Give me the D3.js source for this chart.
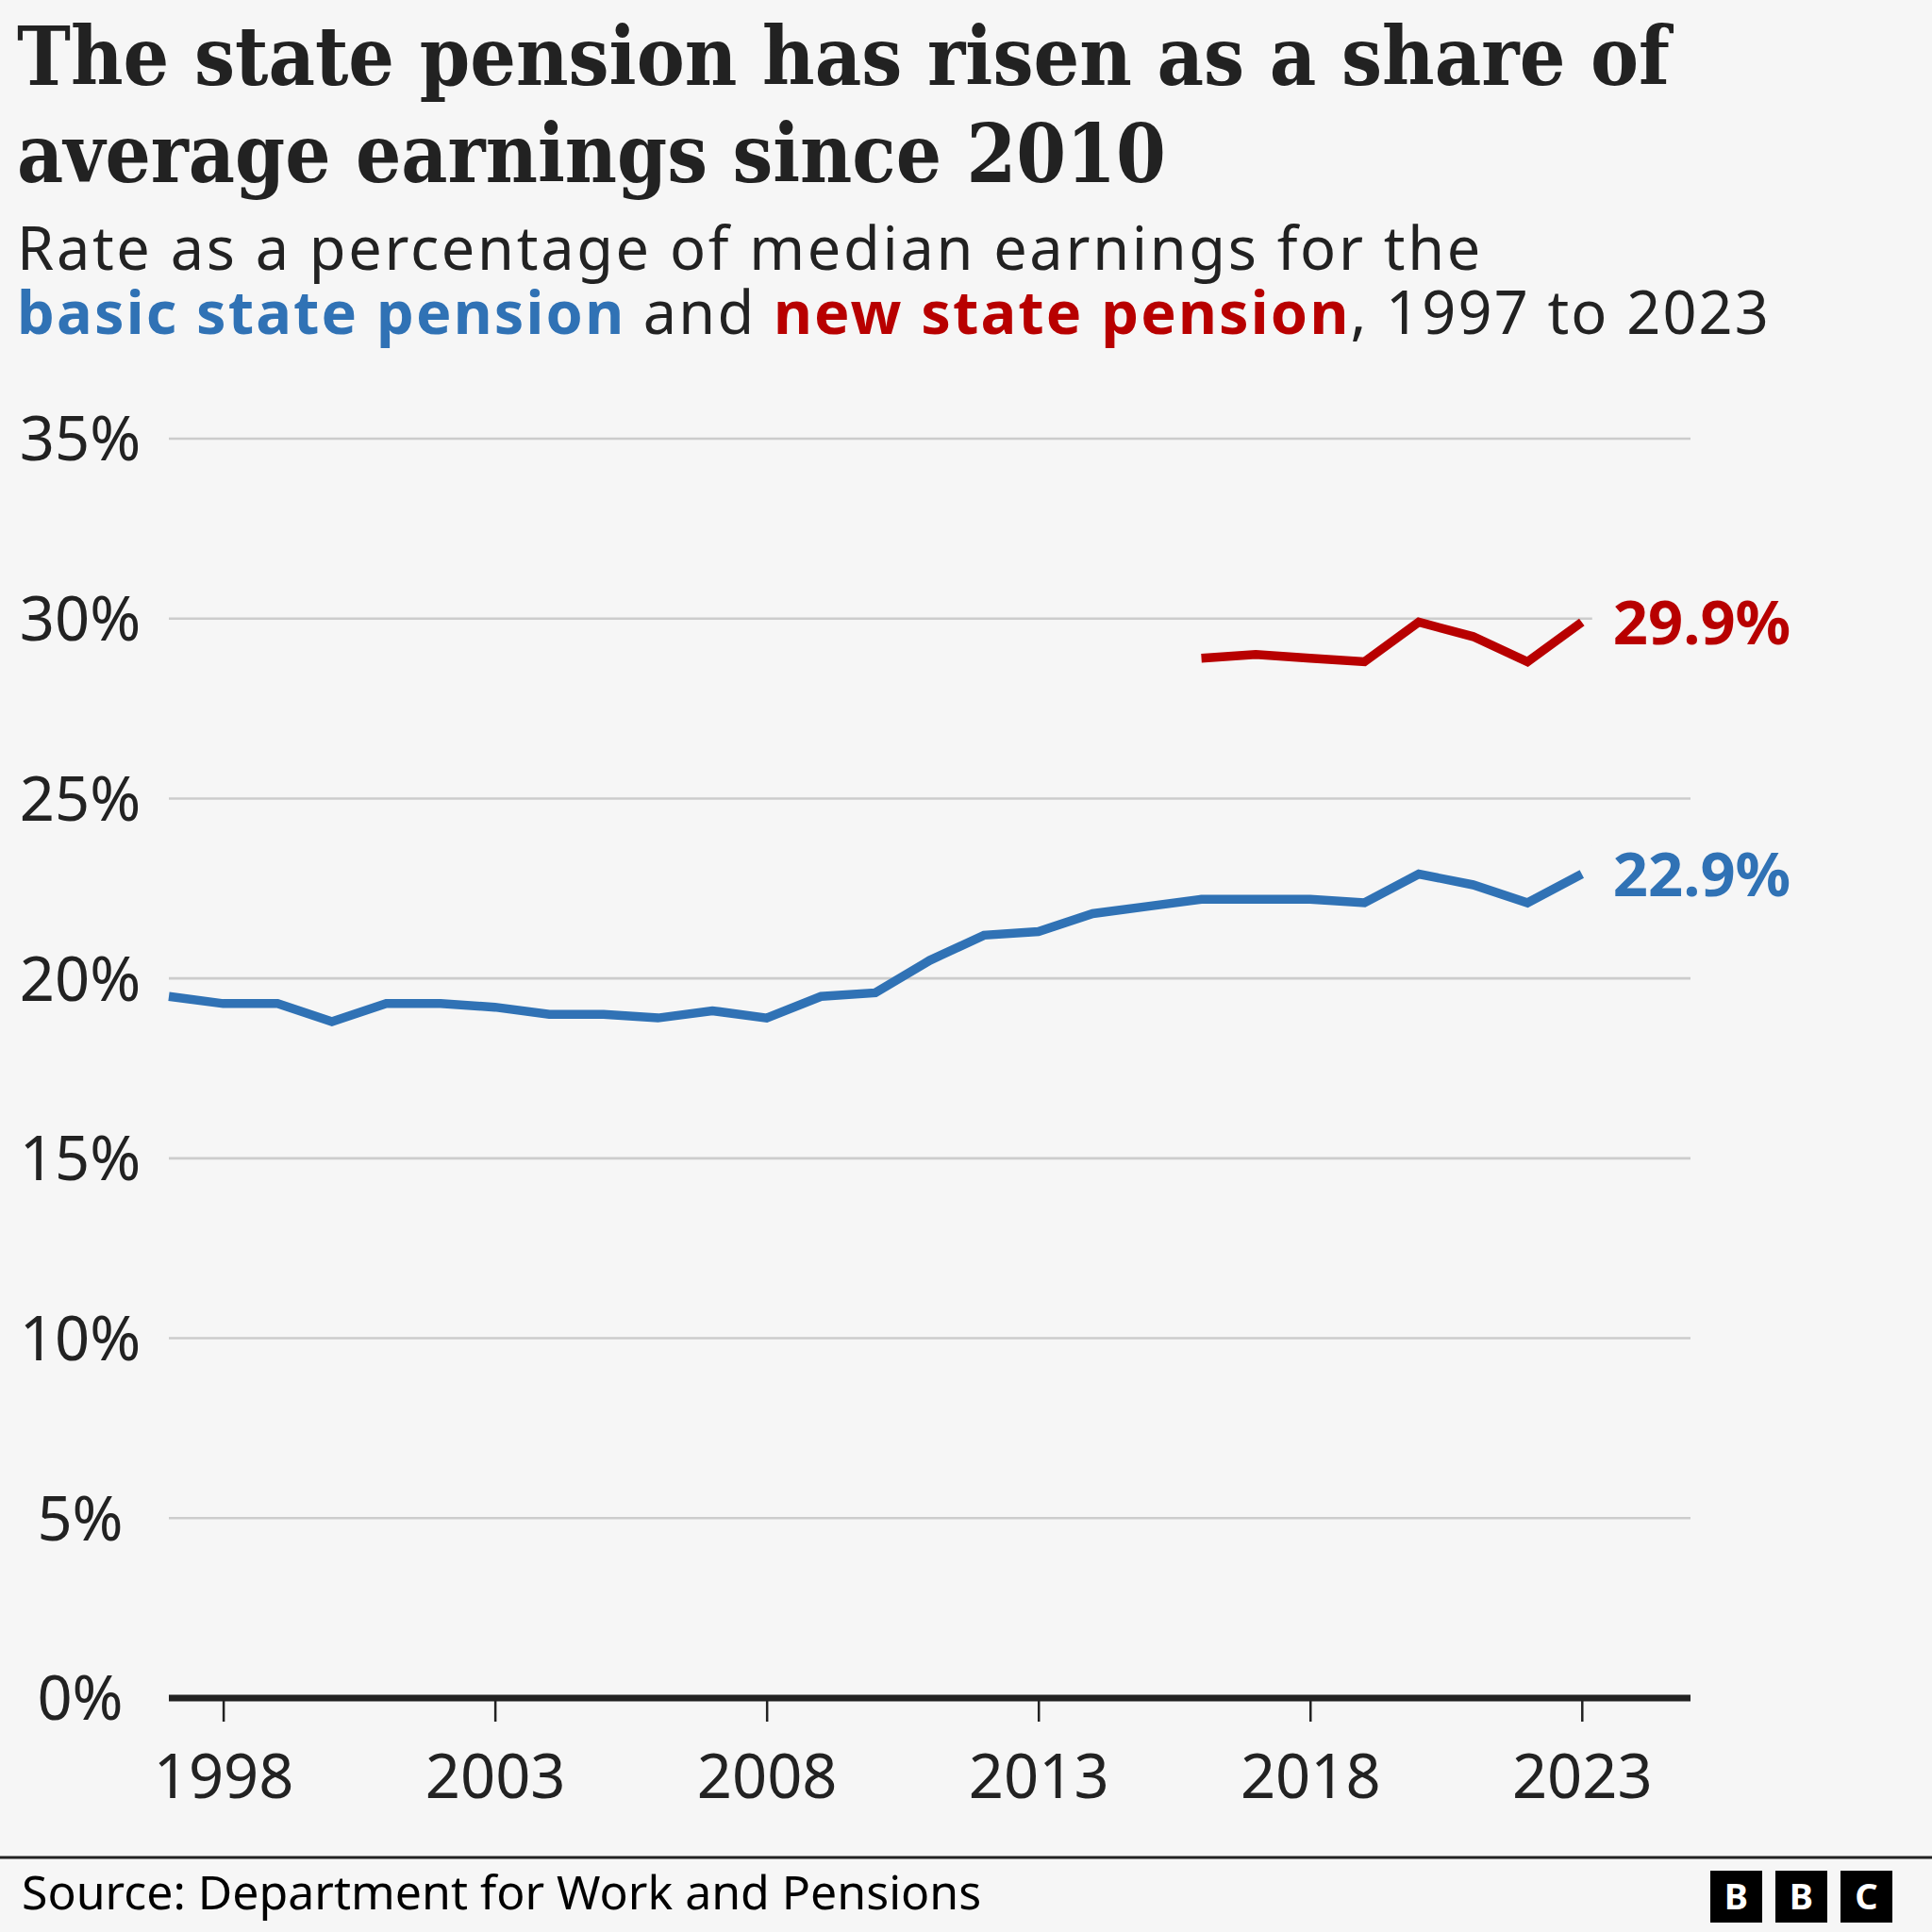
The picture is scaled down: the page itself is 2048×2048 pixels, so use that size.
<!DOCTYPE html>
<html>
<head>
<meta charset="utf-8">
<script src="https://cdn.jsdelivr.net/npm/d3@7"></script>
<style>
  html, body { margin: 0; padding: 0; background: #f6f6f6; }
  svg { display: block; }
</style>
</head>
<body>
<svg id="chart" width="2048" height="2048"></svg>
<script>
// ---- Data ----
const years = d3.range(1997, 2024);
const basicStatePension = [19.5, 19.3, 19.3, 18.8, 19.3, 19.3, 19.2, 19.0, 19.0, 18.9, 19.1, 18.9, 19.5, 19.6, 20.5, 21.2, 21.3, 21.8, 22.0, 22.2, 22.2, 22.2, 22.1, 22.9, 22.6, 22.1, 22.9];
const newYears = d3.range(2016, 2024);
const newStatePension = [28.9, 29.0, 28.9, 28.8, 29.9, 29.5, 28.8, 29.9];
const yTicks = [0, 5, 10, 15, 20, 25, 30, 35];
const xTicks = [1998, 2003, 2008, 2013, 2018, 2023];
const endLabels = ["22.9%", "29.9%"];

const BLUE = "#3072b5", RED = "#b80000", TEXT = "#222222", BG = "#f6f6f6";
const SANS = "'Noto Sans', 'Open Sans', sans-serif";
const SERIF = "'DejaVu Serif', serif";

const svg = d3.select("#chart");
svg.append("rect").attr("width", 2048).attr("height", 2048).attr("fill", BG);

// ---- Title ----
const titleLines = [
  {t: "The state pension has risen as a share of", y: 90, w: 1752},
  {t: "average earnings since 2010", y: 193, w: 1218}
];
titleLines.forEach(l => {
  svg.append("text").attr("x", 18).attr("y", l.y)
    .attr("font-family", SERIF).attr("font-weight", "bold").attr("font-size", 86)
    .attr("fill", TEXT).attr("textLength", l.w).attr("lengthAdjust", "spacingAndGlyphs")
    .text(l.t);
});

// ---- Subtitle ----
const SUB_SIZE = 63;
const s1text = "Rate as a percentage of median earnings for the";
const sub1 = svg.append("text").attr("x", 18).attr("y", 286)
  .attr("font-family", SANS).attr("font-size", SUB_SIZE).attr("fill", TEXT)
  .text(s1text);
const nat1 = sub1.node().getComputedTextLength();
const ls1 = Math.max(0, Math.min(3, (1554 - nat1) / s1text.length));
sub1.attr("letter-spacing", ls1);

// second line: separate runs placed one after another
const runs = [
  {t: "basic state pension", c: BLUE, b: true},
  {t: " and ", c: TEXT, b: false},
  {t: "new state pension", c: RED, b: true},
  {t: ", 1997 to 2023", c: TEXT, b: false}
];
const runEls = runs.map(r => svg.append("text").attr("y", 354)
  .attr("font-family", SANS).attr("font-size", SUB_SIZE).attr("fill", r.c)
  .attr("font-weight", r.b ? "bold" : "normal").style("white-space", "pre").text(r.t));
const natW = runEls.map(el => el.node().getComputedTextLength());
const nChars = d3.sum(runs, r => r.t.length);
const ls2 = Math.max(0, Math.min(3, (1859 - d3.sum(natW)) / nChars));
let cx = 18;
runEls.forEach((el, i) => {
  el.attr("x", cx).attr("letter-spacing", ls2);
  cx += natW[i] + ls2 * runs[i].t.length;
});

// ---- Scales ----
const x = d3.scaleLinear().domain([1997, 2025]).range([179, 1792]);
const y = d3.scaleLinear().domain([0, 35]).range([1800, 465]);

// gridlines
svg.append("g").selectAll("line").data(yTicks.filter(d => d > 0)).join("line")
  .attr("x1", x(1997)).attr("x2", x(2025))
  .attr("y1", d => y(d)).attr("y2", d => y(d))
  .attr("stroke", "#cccccc").attr("stroke-width", 2.6);

// y labels
svg.append("g").selectAll("text").data(yTicks).join("text")
  .attr("x", 85).attr("y", d => y(d)).attr("dy", "0.36em")
  .attr("text-anchor", "middle").attr("font-family", SANS).attr("font-size", 65)
  .attr("fill", TEXT).text(d => d + "%");

// x axis
const xAxis = d3.axisBottom(x).tickValues(xTicks).tickFormat(d3.format("d")).tickSize(25).tickPadding(34);
const gx = svg.append("g").attr("transform", `translate(0,${y(0)})`).call(xAxis);
gx.select(".domain").remove();
gx.selectAll(".tick line").attr("stroke", TEXT).attr("stroke-width", 2.5);
gx.selectAll(".tick text").attr("font-family", SANS).attr("font-size", 65).attr("fill", TEXT)
  .attr("dy", "0.72em");
svg.append("line").attr("x1", x(1997)).attr("x2", x(2025)).attr("y1", y(0)).attr("y2", y(0))
  .attr("stroke", TEXT).attr("stroke-width", 7);

// ---- Lines ----
const line = d3.line().x(d => x(d[0])).y(d => y(d[1]));
svg.append("path").datum(years.map((yr, i) => [yr, basicStatePension[i]]))
  .attr("d", line).attr("fill", "none").attr("stroke", BLUE).attr("stroke-width", 9.5)
  .attr("stroke-linejoin", "miter");
svg.append("path").datum(newYears.map((yr, i) => [yr, newStatePension[i]]))
  .attr("d", line).attr("fill", "none").attr("stroke", RED).attr("stroke-width", 9.5)
  .attr("stroke-linejoin", "miter");

// ---- End labels ----
const ends = [
  {v: basicStatePension[basicStatePension.length - 1], c: BLUE, t: endLabels[0]},
  {v: newStatePension[newStatePension.length - 1], c: RED, t: endLabels[1]}
];
ends.forEach(e => {
  const lx = x(2023) + 33;
  svg.append("rect").attr("x", lx - 22).attr("y", y(e.v) - 30).attr("width", 220).attr("height", 60).attr("fill", BG);
  svg.append("text").attr("x", lx).attr("y", y(e.v)).attr("dy", "0.36em")
    .attr("font-family", SANS).attr("font-weight", "bold").attr("font-size", 65)
    .attr("fill", e.c).text(e.t);
});

// ---- Footer ----
svg.append("line").attr("x1", 0).attr("x2", 2048).attr("y1", 1969).attr("y2", 1969)
  .attr("stroke", TEXT).attr("stroke-width", 3);
svg.append("text").attr("x", 23).attr("y", 2024)
  .attr("font-family", SANS).attr("font-size", 50).attr("fill", "#000")
  .text("Source: Department for Work and Pensions");
const logo = svg.append("g");
["B", "B", "C"].forEach((ch, i) => {
  const bx = 1813 + i * 69;
  logo.append("rect").attr("x", bx).attr("y", 1983).attr("width", 55).attr("height", 55).attr("fill", "#000");
  logo.append("text").attr("x", bx + 27.5).attr("y", 2010.5).attr("dy", "0.36em")
    .attr("text-anchor", "middle").attr("font-family", SANS).attr("font-weight", "bold")
    .attr("font-size", 38).attr("fill", "#fff").text(ch);
});
</script>
</body>
</html>
